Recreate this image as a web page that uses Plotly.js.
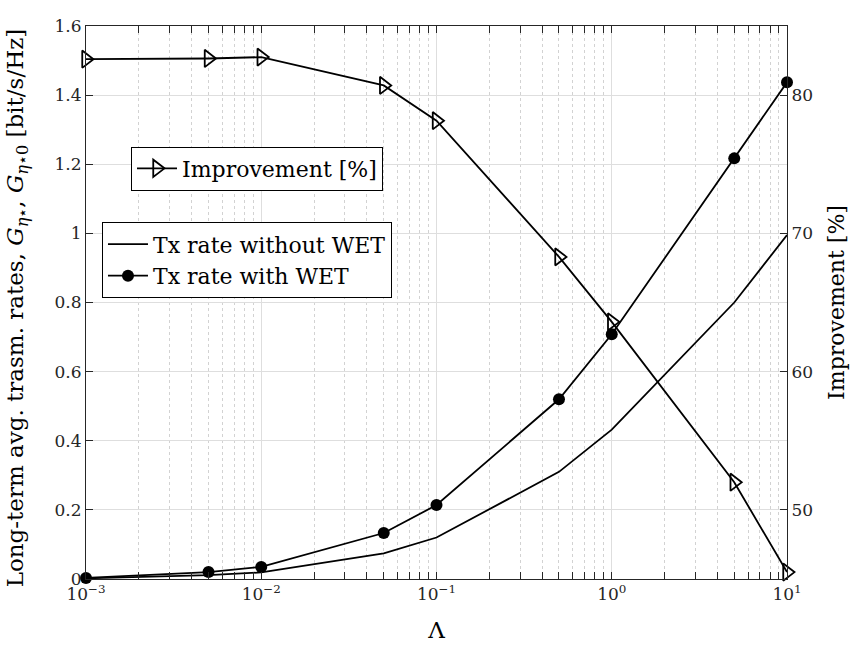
<!DOCTYPE html>
<html>
<head>
<meta charset="utf-8">
<script src="https://cdn.plot.ly/plotly-3.0.1.min.js"></script>
<style>html,body{margin:0;padding:0;background:#fff;}#chart{width:855px;height:645px;}</style>
</head>
<body>
<div id="chart"></div>
<script>
// Data
const lambdaValues = [0.001, 0.005, 0.01, 0.05, 0.1, 0.5, 1, 5, 10];
const rateWithoutWET = [0.002, 0.011, 0.019, 0.074, 0.12, 0.31, 0.432, 0.80, 0.995];
const rateWithWET = [0.003, 0.020, 0.035, 0.133, 0.214, 0.52, 0.708, 1.217, 1.437];
const improvementPct = [82.6, 82.65, 82.75, 80.7, 78.15, 68.3, 63.6, 52.0, 45.5];

const xTickVals = [0.001, 0.01, 0.1, 1, 10];
const xTickText = ['10<sup>−3</sup>', '10<sup>−2</sup>', '10<sup>−1</sup>', '10<sup>0</sup>', '10<sup>1</sup>'];
const yTickVals = [0, 0.2, 0.4, 0.6, 0.8, 1, 1.2, 1.4, 1.6];
const yTickText = ['0', '0.2', '0.4', '0.6', '0.8', '1', '1.2', '1.4', '1.6'];
const y2TickVals = [50, 60, 70, 80];
const y2TickText = ['50', '60', '70', '80'];

// minor log ticks (2..9 within each decade)
const xMinorVals = [];
[0.001, 0.01, 0.1, 1].forEach(function (d) { for (let k = 2; k <= 9; k++) xMinorVals.push(d * k); });

const FONT = 'DejaVu Serif, Liberation Serif, serif';
const AX = '#262626';
const GRID = '#dedede';

const traces = [
  {
    x: lambdaValues, y: improvementPct, yaxis: 'y2', name: 'Improvement [%]',
    mode: 'lines+markers', legend: 'legend', cliponaxis: false,
    line: {color: '#000', width: 1.8},
    marker: {symbol: 'triangle-right-open', size: 15, color: '#000', line: {width: 1.8, color: '#000'}}
  },
  {
    x: lambdaValues, y: rateWithoutWET, yaxis: 'y', name: 'Tx rate without WET',
    mode: 'lines', legend: 'legend2', cliponaxis: false,
    line: {color: '#000', width: 1.8}
  },
  {
    x: lambdaValues, y: rateWithWET, yaxis: 'y', name: 'Tx rate with WET',
    mode: 'lines+markers', legend: 'legend2', cliponaxis: false,
    line: {color: '#000', width: 1.8},
    marker: {symbol: 'circle', size: 12, color: '#000'}
  }
];

const layout = {
  width: 855, height: 645,
  margin: {l: 86, r: 68, t: 25.5, b: 66, pad: 0},
  paper_bgcolor: '#fff', plot_bgcolor: '#fff',
  font: {family: FONT, size: 17, color: AX},
  showlegend: true,
  xaxis: {
    type: 'log', range: [-3, 1],
    tickmode: 'array', tickvals: xTickVals, ticktext: xTickText,
    ticks: 'inside', ticklen: 7, tickcolor: AX, tickwidth: 1,
    showline: true, linecolor: AX, linewidth: 1, mirror: 'allticks',
    showgrid: true, gridcolor: GRID, gridwidth: 1,
    zeroline: false,
    tickfont: {family: FONT, size: 17, color: AX},
    minor: {tickmode: 'array', tickvals: xMinorVals, ticks: 'inside', ticklen: 4, tickcolor: AX,
            showgrid: true, gridcolor: '#d2d2d2', griddash: 'dot', gridwidth: 1},
    title: {text: 'Λ', font: {family: FONT, size: 23, color: '#000'}, standoff: 18}
  },
  yaxis: {
    range: [0, 1.6],
    tickmode: 'array', tickvals: yTickVals, ticktext: yTickText,
    ticks: 'inside', ticklen: 7, tickcolor: AX,
    showline: true, linecolor: AX, linewidth: 1,
    showgrid: true, gridcolor: GRID, gridwidth: 1, zeroline: false,
    tickfont: {family: FONT, size: 17, color: AX}
  },
  yaxis2: {
    overlaying: 'y', side: 'right', range: [45, 85],
    tickmode: 'array', tickvals: y2TickVals, ticktext: y2TickText,
    ticks: 'inside', ticklen: 7, tickcolor: AX,
    showline: true, linecolor: AX, linewidth: 1,
    showgrid: false, zeroline: false,
    tickfont: {family: FONT, size: 17, color: AX},
    title: {text: 'Improvement [%]', font: {family: FONT, size: 22, color: '#000'}, standoff: 16}
  },
  annotations: [{
    text: 'Long-term avg. trasm. rates, <i>G</i><sub><i>η</i>⋆</sub>, <i>G</i><sub><i>η</i>⋆0</sub> [bit/s/Hz]',
    xref: 'paper', yref: 'paper', x: -0.098, y: 0.49, xanchor: 'center', yanchor: 'middle',
    textangle: -90, showarrow: false,
    font: {family: FONT, size: 23, color: '#000'}
  }],
  legend: {
    x: 0.0642, y: 0.782, xanchor: 'left', yanchor: 'top',
    bgcolor: '#fff', bordercolor: '#000', borderwidth: 1,
    font: {family: FONT, size: 22, color: '#000'}, itemwidth: 40, tracegroupgap: 0
  },
  legend2: {
    x: 0.0228, y: 0.645, xanchor: 'left', yanchor: 'top',
    bgcolor: '#fff', bordercolor: '#000', borderwidth: 1,
    font: {family: FONT, size: 22, color: '#000'}, itemwidth: 40, tracegroupgap: 0
  }
};

Plotly.newPlot('chart', traces, layout, {staticPlot: true, displayModeBar: false});
</script>
</body>
</html>
